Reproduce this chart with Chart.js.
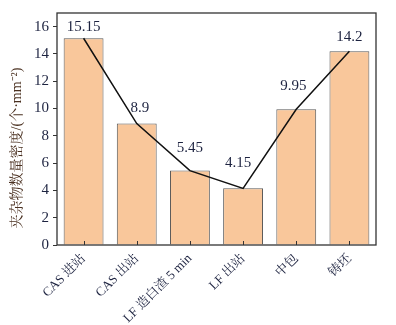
<!DOCTYPE html>
<html>
<head>
<meta charset="utf-8">
<script src="https://cdn.jsdelivr.net/npm/chart.js@4/dist/chart.umd.min.js"></script>
<style>
  html, body { margin: 0; padding: 0; background: #fff; }
  #wrap { width: 396px; height: 325px; }
</style>
</head>
<body>
<div id="wrap"><canvas id="densityChart"></canvas></div>
<script>
const stations = ['CAS 进站', 'CAS 出站', 'LF 造白渣 5 min', 'LF 出站', '中包', '铸坯'];
const density = [15.15, 8.9, 5.45, 4.15, 9.95, 14.2];
const yTicks = [0, 2, 4, 6, 8, 10, 12, 14, 16];
const yTitle = '夹杂物数量密度/(个·mm⁻²)';

const serif = '"Liberation Serif", "Noto Serif CJK SC", "Noto Sans CJK SC", serif';
const inkBlue = '#1d2340';

// value labels sit above each bar, nudged so the line doesn't cross them
const labelShift = [[0, -4], [3, -8], [0, -15], [-5, -18], [-3, -16], [0, -7]];

const boxAndLabels = {
  id: 'boxAndLabels',
  afterDatasetsDraw(chart) {
    const { ctx, chartArea: a, scales } = chart;
    const x = scales.x, y = scales.y;
    ctx.save();
    // frame round the plot
    ctx.strokeStyle = '#333';
    ctx.lineWidth = 1.3;
    ctx.strokeRect(a.left, a.top, a.right - a.left, a.bottom - a.top);
    // small inward ticks on the category axis
    ctx.lineWidth = 1;
    stations.forEach((s, i) => {
      const px = Math.round(x.getPixelForTick(i)) + 0.5;
      ctx.beginPath();
      ctx.moveTo(px, a.bottom);
      ctx.lineTo(px, a.bottom - 4);
      ctx.stroke();
    });
    // value labels
    ctx.fillStyle = inkBlue;
    ctx.font = '15px ' + serif;
    ctx.textAlign = 'center';
    ctx.textBaseline = 'bottom';
    density.forEach((v, i) => {
      const px = x.getPixelForValue(i) + labelShift[i][0];
      const py = y.getPixelForValue(v) + labelShift[i][1];
      ctx.fillText(String(v), px, py);
    });
    // rotated y title
    ctx.translate(17, (a.top + a.bottom) / 2 + 19);
    ctx.rotate(-Math.PI / 2);
    ctx.fillStyle = '#4a3020';
    ctx.font = '14px ' + serif;
    ctx.textBaseline = 'middle';
    ctx.fillText(yTitle, 0, 0);
    ctx.restore();
  }
};

new Chart(document.getElementById('densityChart'), {
  data: {
    labels: stations,
    datasets: [
      {
        type: 'line',
        data: density,
        borderColor: '#111',
        borderWidth: 1.5,
        pointRadius: 0,
        tension: 0,
        order: 0
      },
      {
        type: 'bar',
        data: density,
        backgroundColor: '#f9c79b',
        borderColor: '#5a5a5a',
        borderWidth: 1,
        categoryPercentage: 1,
        barPercentage: 0.75,
        order: 1
      }
    ]
  },
  options: {
    responsive: true,
    maintainAspectRatio: false,
    animation: false,
    layout: { padding: { top: 5, right: 20, left: 0, bottom: 0 } },
    plugins: { legend: { display: false }, tooltip: { enabled: false } },
    scales: {
      x: {
        offset: true,
        grid: { display: false, drawTicks: false },
        border: { display: false },
        ticks: {
          color: inkBlue,
          font: { family: serif, size: 13 },
          minRotation: 45,
          maxRotation: 45,
          padding: 6
        },
        afterFit(scale) { scale.height = 80; }
      },
      y: {
        min: 0,
        max: 17,
        afterBuildTicks(scale) { scale.ticks = yTicks.map(v => ({ value: v })); },
        grid: { drawOnChartArea: false, drawTicks: true, tickLength: 4, color: '#333' },
        border: { display: false },
        ticks: {
          color: inkBlue,
          font: { family: serif, size: 15 },
          padding: 4
        },
        afterFit(scale) { scale.width = 57; }
      }
    }
  },
  plugins: [boxAndLabels]
});
</script>
</body>
</html>
